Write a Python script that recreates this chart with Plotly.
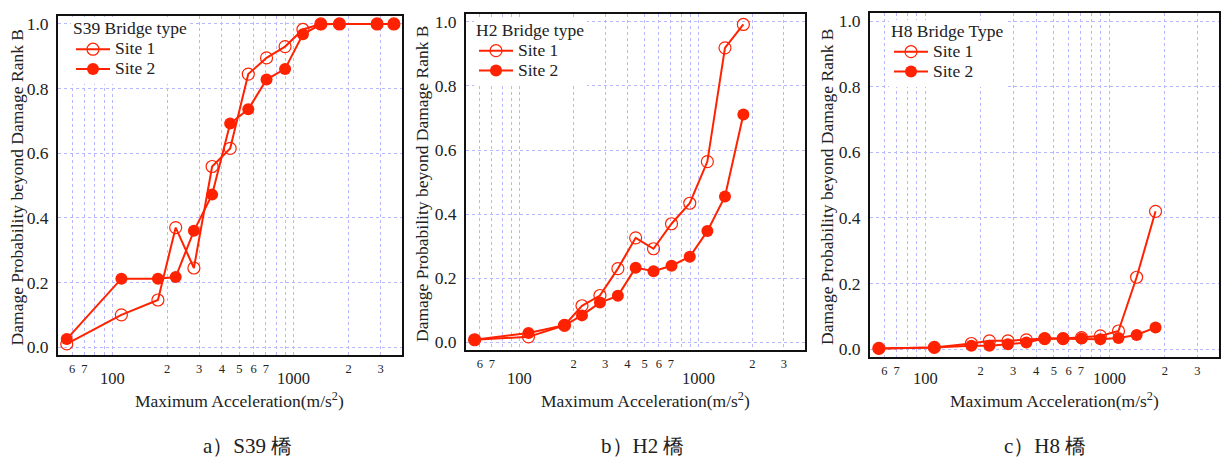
import math
import plotly.graph_objects as go

W, H = 1221, 465

# Maximum acceleration levels (shared across the three bridge types)
accel = [56, 112, 178, 223, 281, 354, 445, 560, 706, 893, 1120, 1405, 1780, 2870, 3550]

# Damage probability beyond damage rank B
s39_site1 = [0.01, 0.10, 0.146, 0.37, 0.245, 0.559, 0.615, 0.845, 0.895, 0.93, 0.983, 1.0, 1.0, 1.0, 1.0]
s39_site2 = [0.025, 0.212, 0.212, 0.217, 0.36, 0.472, 0.692, 0.736, 0.828, 0.861, 0.968, 0.999, 1.0, 1.0, 1.0]

h2_site1 = [0.008, 0.017, 0.053, 0.114, 0.146, 0.23, 0.326, 0.292, 0.37, 0.434, 0.564, 0.919, 0.992]
h2_site2 = [0.008, 0.029, 0.053, 0.084, 0.124, 0.145, 0.233, 0.222, 0.239, 0.267, 0.347, 0.455, 0.711]

h8_site1 = [0.002, 0.005, 0.017, 0.025, 0.025, 0.028, 0.032, 0.032, 0.035, 0.04, 0.055, 0.219, 0.42]
h8_site2 = [0.002, 0.005, 0.01, 0.01, 0.015, 0.02, 0.032, 0.032, 0.032, 0.03, 0.034, 0.043, 0.066]

legend_titles = ["S39 Bridge type", "H2 Bridge type", "H8 Bridge Type"]
captions = ["a）S39 橋", "b）H2 橋", "c）H8 橋"]
series_names = ["Site 1", "Site 2"]

# labelled x ticks (log axis): small digits under each gridline
tick_vals = [60, 70, 200, 300, 400, 500, 600, 700, 2000, 3000]
tick_text = ["6", "7", "2", "3", "4", "5", "6", "7", "2", "3"]
# unlabelled gridlines
grid_only_vals = [80, 90, 100, 800, 900, 1000]
# decade labels drawn on a second row
decade_vals = [100, 1000]

RED = "#ff2200"
GRID = "#b8b8ff"
TXT = "#222222"
SERIF = "'Liberation Serif', serif"
LEG_TEXT = 17.5   # visible size of legend text
LEG_ROW = 13      # size that sets the legend row pitch

panels = [
    (s39_site1, s39_site2),
    (h2_site1, h2_site2),
    (h8_site1, h8_site2),
]

# plot-area pixel boxes: left, right, top, bottom
boxes = [(58, 402, 14, 356), (466, 805, 12, 351), (870, 1219, 11, 358)]
legend_pos = [(71, 15.5), (474, 17), (889, 18)]
ytitle_x = [17, 422, 827]
caption_x = [247, 642, 1045]


def px_x(p):
    return p / W


def px_y(p):
    return (H - p) / H


def big(s):
    return f'<span style="font-size:{LEG_TEXT}px">{s}</span>'


fig = go.Figure()
annotations = []

for i, ((s1, s2), box) in enumerate(zip(panels, boxes)):
    n = i + 1
    xa = "x" if n == 1 else f"x{n}"
    ya = "y" if n == 1 else f"y{n}"
    leg = "legend" if n == 1 else f"legend{n}"
    xs1 = accel[: len(s1)]
    xs2 = accel[: len(s2)]
    fig.add_trace(go.Scatter(
        x=xs1, y=s1, name=big(series_names[0]), mode="lines+markers",
        line=dict(color=RED, width=2),
        marker=dict(symbol="circle-open", size=12, color=RED, line=dict(width=1.2, color=RED)),
        xaxis=xa, yaxis=ya, legend=leg,
    ))
    fig.add_trace(go.Scatter(
        x=xs2, y=s2, name=big(series_names[1]), mode="lines+markers",
        line=dict(color=RED, width=2),
        marker=dict(symbol="circle", size=12, color=RED),
        xaxis=xa, yaxis=ya, legend=leg,
    ))

    l, r, t, b = box
    axis_common = dict(
        showline=True, mirror=True, linecolor="#111111", linewidth=2,
        showgrid=True, gridcolor=GRID, griddash="dot", gridwidth=1,
        zeroline=False, ticks="",
    )
    fig.update_layout(**{
        ("xaxis" if n == 1 else f"xaxis{n}"): dict(
            type="log", range=[1.70, 3.595],
            domain=[px_x(l), px_x(r)], anchor=ya,
            tickmode="array", tickvals=tick_vals, ticktext=tick_text,
            tickfont=dict(family=SERIF, size=12.5, color=TXT),
            ticklabelstandoff=1,
            minor=dict(tickmode="array", tickvals=grid_only_vals, ticks="",
                       showgrid=True, gridcolor=GRID, griddash="dot", gridwidth=1),
            **axis_common,
        ),
        ("yaxis" if n == 1 else f"yaxis{n}"): dict(
            range=[-0.024, 1.025],
            domain=[px_y(b), px_y(t)], anchor=xa,
            tickmode="array", tickvals=[0, 0.2, 0.4, 0.6, 0.8, 1.0],
            ticktext=["0.0", "0.2", "0.4", "0.6", "0.8", "1.0"],
            tickfont=dict(family=SERIF, size=17.5, color=TXT),
            ticklabelstandoff=4,
            **axis_common,
        ),
        leg: dict(
            x=px_x(legend_pos[i][0]), y=px_y(legend_pos[i][1]),
            xanchor="left", yanchor="top",
            bgcolor="white", borderwidth=0,
            title=dict(text=big(legend_titles[i]), font=dict(family=SERIF, size=LEG_ROW, color=TXT)),
            font=dict(family=SERIF, size=LEG_ROW, color=TXT),
            tracegroupgap=0, itemwidth=34,
        ),
    })

    # decade labels beneath the digit row
    for dv in decade_vals:
        annotations.append(dict(
            x=math.log10(dv), y=px_y(380), xref=xa, yref="paper",
            text=str(dv), showarrow=False, xanchor="center", yanchor="middle",
            font=dict(family=SERIF, size=16.5, color=TXT),
        ))
    # axis titles
    annotations.append(dict(
        x=px_x((l + r) / 2 + 10), y=px_y(401), xref="paper", yref="paper",
        text="Maximum Acceleration(m/s<sup>2</sup>)", showarrow=False,
        xanchor="center", yanchor="middle",
        font=dict(family=SERIF, size=17.5, color=TXT),
    ))
    annotations.append(dict(
        x=px_x(ytitle_x[i]), y=px_y((t + b) / 2 + 2), xref="paper", yref="paper",
        text="Damage Probability beyond Damage Rank B", showarrow=False,
        textangle=-90, xanchor="center", yanchor="middle",
        font=dict(family=SERIF, size=17.5, color=TXT),
    ))
    # panel caption
    annotations.append(dict(
        x=px_x(caption_x[i]), y=px_y(448), xref="paper", yref="paper",
        text=captions[i], showarrow=False, xanchor="center", yanchor="middle",
        font=dict(family=SERIF, size=21, color=TXT),
    ))

fig.update_layout(
    width=W, height=H,
    margin=dict(l=0, r=0, t=0, b=0),
    paper_bgcolor="white", plot_bgcolor="white",
    annotations=annotations,
    showlegend=True,
)

fig.write_html("out.html")
